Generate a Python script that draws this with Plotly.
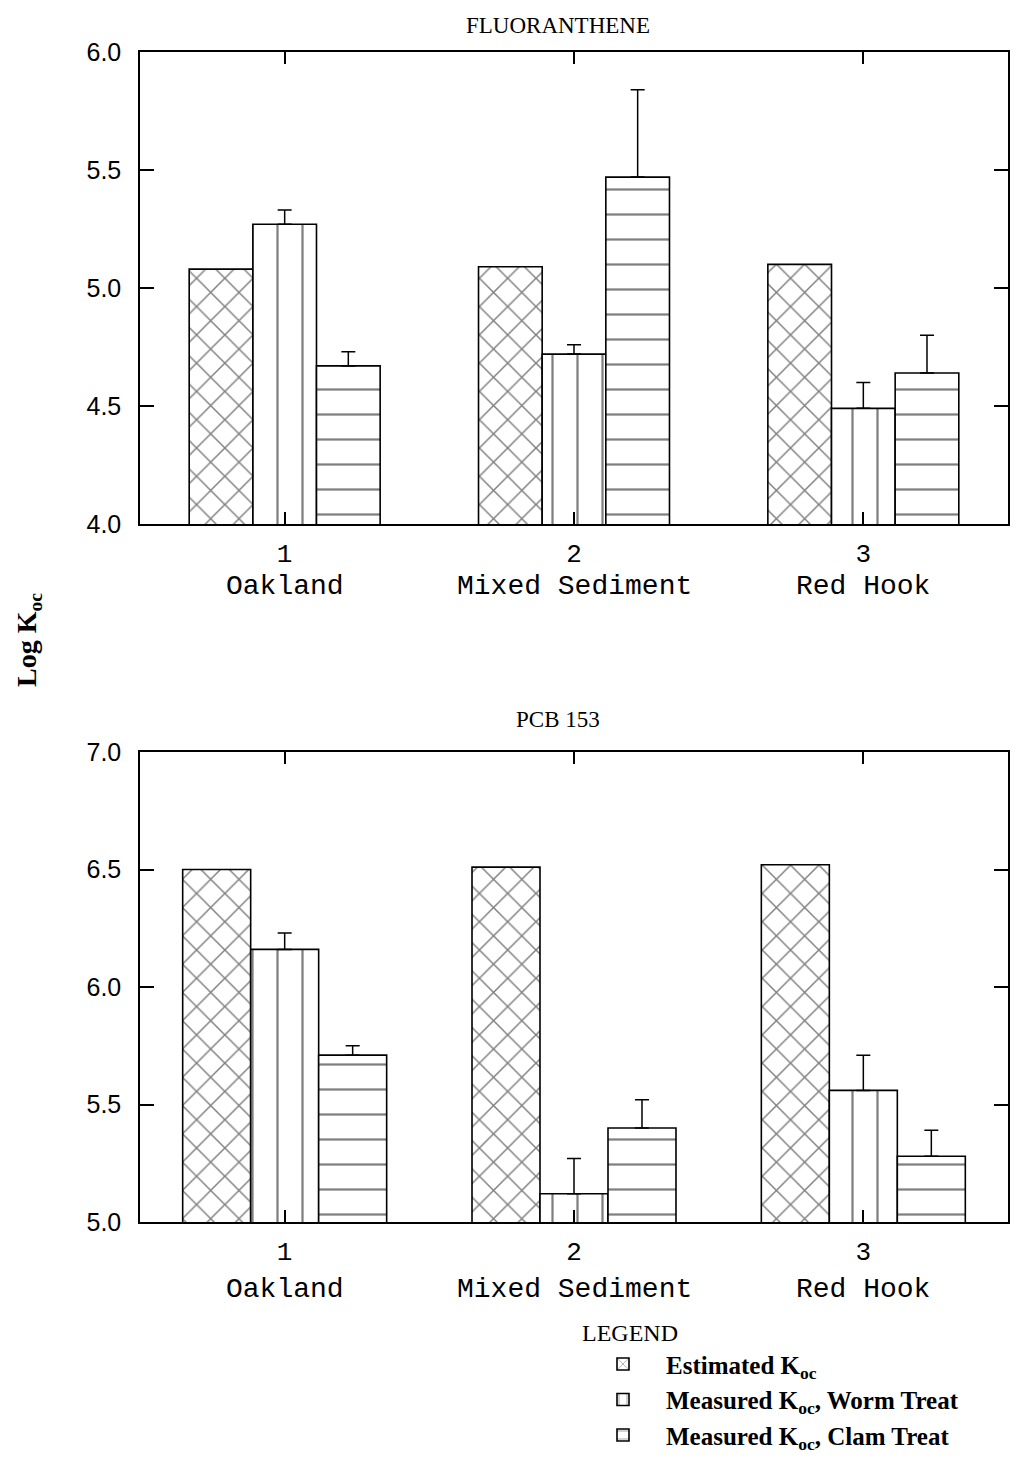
import plotly.graph_objects as go
from plotly.subplots import make_subplots

# ---------------- data ----------------
categories = [1, 2, 3]
cat_numbers = ["1", "2", "3"]
cat_names = ["Oakland", "Mixed Sediment", "Red Hook"]

fl_est = [5.08, 5.09, 5.10]
fl_worm = [5.27, 4.72, 4.49]
fl_worm_err = [0.06, 0.04, 0.11]
fl_clam = [4.67, 5.47, 4.64]
fl_clam_err = [0.06, 0.37, 0.16]

pcb_est = [6.50, 6.51, 6.52]
pcb_worm = [6.16, 5.12, 5.56]
pcb_worm_err = [0.07, 0.15, 0.15]
pcb_clam = [5.71, 5.40, 5.28]
pcb_clam_err = [0.04, 0.12, 0.11]

series_names = ["<b>Estimated K<sub>oc</sub></b>",
                "<b>Measured K<sub>oc</sub>, Worm Treat</b>",
                "<b>Measured K<sub>oc</sub>, Clam Treat</b>"]

# ---------------- figure ----------------
W, H = 1009, 1447          # page body has an 8px margin on every side
OFF = 8
L, T = 140 - OFF, 52 - OFF
R = W - (1008 - OFF)
B = H - (1222 - OFF)
PH = H - T - B             # plot-area height in px


def py(ypix):
    """convert screenshot y pixel into paper fraction"""
    return (H - B + OFF - ypix) / PH


def px(xpix):
    return (xpix - OFF - L) / (W - L - R)


fig = make_subplots(rows=2, cols=1)

patterns = [dict(shape="x", size=20, solidity=0.14, fgcolor="black", bgcolor="white"),
            dict(shape="|", size=25, solidity=0.09, fgcolor="black", bgcolor="white"),
            dict(shape="-", size=25, solidity=0.09, fgcolor="black", bgcolor="white")]


def add_row(row, est, worm, worm_err, clam, clam_err, bw):
    vals = [est, worm, clam]
    errs = [None, worm_err, clam_err]
    offsets = [-1.5 * bw, -0.5 * bw, 0.5 * bw]
    for i in range(3):
        kw = {}
        if errs[i] is not None:
            kw["error_y"] = dict(type="data", symmetric=False, array=errs[i],
                                 arrayminus=[0] * len(errs[i]), color="black",
                                 thickness=1.5, width=7)
        fig.add_trace(go.Bar(x=categories, y=vals[i], name=series_names[i],
                             width=bw, offset=offsets[i],
                             marker=dict(color="white", pattern=patterns[i],
                                         line=dict(color="black", width=1.6)),
                             showlegend=(row == 1), **kw), row=row, col=1)


add_row(1, fl_est, fl_worm, fl_worm_err, fl_clam, fl_clam_err, 0.22)
add_row(2, pcb_est, pcb_worm, pcb_worm_err, pcb_clam, pcb_clam_err, 0.235)

axis_common = dict(showline=True, linecolor="black", linewidth=1.5, mirror="ticks",
                   ticks="inside", tickcolor="black", tickwidth=1.5,
                   showgrid=False, zeroline=False)

for ax in ["xaxis", "xaxis2"]:
    fig.layout[ax].update(**axis_common, range=[0.5, 3.5], tickvals=categories,
                          ticktext=cat_numbers, ticklen=12, ticklabelstandoff=5,
                          tickfont=dict(family="Liberation Mono", size=26, color="black"))

fig.layout.yaxis.update(**axis_common, range=[4.0, 6.0], dtick=0.5, tick0=4.0,
                        tickformat=".1f", ticklen=14, ticklabelstandoff=12,
                        tickfont=dict(family="Liberation Sans", size=25, color="black"))
fig.layout.yaxis2.update(**axis_common, range=[5.0, 7.0], dtick=0.5, tick0=5.0,
                         tickformat=".1f", ticklen=14, ticklabelstandoff=12,
                         tickfont=dict(family="Liberation Sans", size=25, color="black"))

fig.layout.yaxis.domain = [py(524), 1.0]
fig.layout.yaxis2.domain = [0.0, py(752)]
fig.layout.xaxis.domain = [0, 1]
fig.layout.xaxis2.domain = [0, 1]

# location names under the category numbers
for xref, ypos in [("x", 586), ("x2", 1289)]:
    for c, name in zip(categories, cat_names):
        fig.add_annotation(text=name, xref=xref, yref="paper", x=c, y=py(ypos),
                           xanchor="center", yanchor="middle", showarrow=False,
                           font=dict(family="Liberation Mono", size=28, color="black"))

fig.add_annotation(text="FLUORANTHENE", xref="paper", yref="paper", x=px(558),
                   y=py(25), xanchor="center", yanchor="middle", showarrow=False,
                   font=dict(family="Liberation Serif", size=23, color="black"))
fig.add_annotation(text="PCB 153", xref="paper", yref="paper", x=px(558),
                   y=py(719), xanchor="center", yanchor="middle", showarrow=False,
                   font=dict(family="Liberation Serif", size=23, color="black"))
fig.add_annotation(text="<b>Log K<sub>oc</sub></b>", xref="paper", yref="paper",
                   x=px(28), y=py(640), xanchor="center", yanchor="middle",
                   textangle=-90, showarrow=False,
                   font=dict(family="Liberation Serif", size=28, color="black"))

fig.update_layout(
    width=W, height=H,
    margin=dict(l=L, r=R, t=T, b=B, autoexpand=False),
    paper_bgcolor="white", plot_bgcolor="white",
    barmode="overlay",
    legend=dict(x=px(580), y=py(1310), xanchor="left",
                yanchor="top", bgcolor="rgba(0,0,0,0)",
                title=dict(text="LEGEND", side="top",
                           font=dict(family="Liberation Serif", size=24, color="black")),
                font=dict(family="Liberation Serif", size=25, color="black"),
                itemwidth=76, tracegroupgap=0),
)

fig.write_html("out.html")
